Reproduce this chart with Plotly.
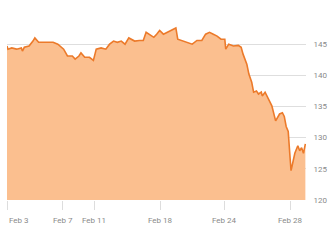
import plotly.graph_objects as go

# trading-day position (0 = open of Feb 3) and price
day = [0.00, 0.06, 0.30, 0.61, 0.91, 0.98, 1.10, 1.40, 1.65, 1.77, 2.01, 2.32, 2.62, 2.93, 3.23,
       3.60, 3.84, 4.15, 4.33, 4.57, 4.70, 4.94, 5.24, 5.49, 5.67, 5.98, 6.28, 6.52, 6.77, 7.01,
       7.26, 7.50, 7.74, 8.11, 8.41, 8.66, 8.84, 9.15, 9.33, 9.51, 9.70, 9.94, 10.18, 10.43, 10.73,
       10.85, 11.16, 11.46, 11.77, 12.07, 12.38, 12.62, 12.87, 13.11, 13.35, 13.60, 13.84, 13.90,
       14.09, 14.39, 14.70, 14.88, 15.00, 15.24, 15.37, 15.55, 15.67, 15.85, 15.98, 16.16, 16.22,
       16.40, 16.52, 16.65, 16.83, 17.07, 17.32, 17.50, 17.62, 17.74, 17.87, 17.99, 18.05, 18.29,
       18.48, 18.60, 18.72, 18.84, 18.96]
price = [144.7, 144.2, 144.4, 144.2, 144.4, 143.9, 144.5, 144.7, 145.5, 146.0, 145.3, 145.3, 145.2, 145.3, 145.0,
         144.2, 143.1, 143.1, 142.6, 143.1, 143.6, 142.9, 142.9, 142.4, 144.2, 144.4, 144.2, 145.0, 145.5, 145.3,
         145.5, 145.0, 146.0, 145.5, 145.6, 145.6, 146.9, 146.3, 146.1, 146.6, 147.2, 146.6, 146.9, 147.2, 147.6,
         145.8, 145.5, 145.3, 145.0, 145.6, 145.6, 146.6, 146.9, 146.6, 146.3, 145.8, 145.8, 144.2,
         145.0, 144.7, 144.8, 144.5, 143.4, 141.8, 140.2, 138.9, 137.3, 137.5, 137.0, 137.3, 136.7,
         137.3, 136.7, 136.2, 135.1, 132.7, 133.8, 134.0, 133.4, 131.8, 131.0, 126.7, 124.7, 127.5,
         128.7, 127.9, 128.4, 127.5, 129.0]

tick_pos = [0.0, 3.54, 5.55, 9.76, 13.84, 17.99]
tick_lbl = ["Feb 3", "Feb 7", "Feb 11", "Feb 18", "Feb 24", "Feb 28"]
y_ticks = [120, 125, 130, 135, 140, 145, 150]
y_lbls = ["120", "125", "130", "135", "140", "145", ""]

fig = go.Figure(go.Scatter(
    x=day, y=price, mode="lines", fill="tozeroy",
    line=dict(color="#ec7a2a", width=1.6),
    fillcolor="#fbbf8f", hoverinfo="skip"))

font = dict(family="Roboto, sans-serif", size=8, color="#8a8a8a")
fig.update_layout(
    width=335, height=240, margin=dict(l=7, r=17, t=13, b=40),
    paper_bgcolor="white", plot_bgcolor="white", showlegend=False,
    xaxis=dict(range=[0, 19], tickvals=tick_pos, showticklabels=False, showgrid=False,
               zeroline=False, ticks="outside", ticklen=9, tickcolor="#dddddd", tickwidth=1,
               showline=False),
    yaxis=dict(range=[120, 150], side="right", tickvals=y_ticks, ticktext=y_lbls,
               showgrid=True, gridcolor="#dedede", gridwidth=1.2, zeroline=False,
               ticks="outside", ticklen=5, tickcolor="rgba(0,0,0,0)", tickfont=font),
)
for i, (p, t) in enumerate(zip(tick_pos, tick_lbl)):
    fig.add_annotation(x=p, xref="x", y=0, yref="paper", yshift=-20, text=t, showarrow=False,
                       xanchor="left" if i == 0 else "center", yanchor="middle", font=font)
fig.write_html("out.html")
